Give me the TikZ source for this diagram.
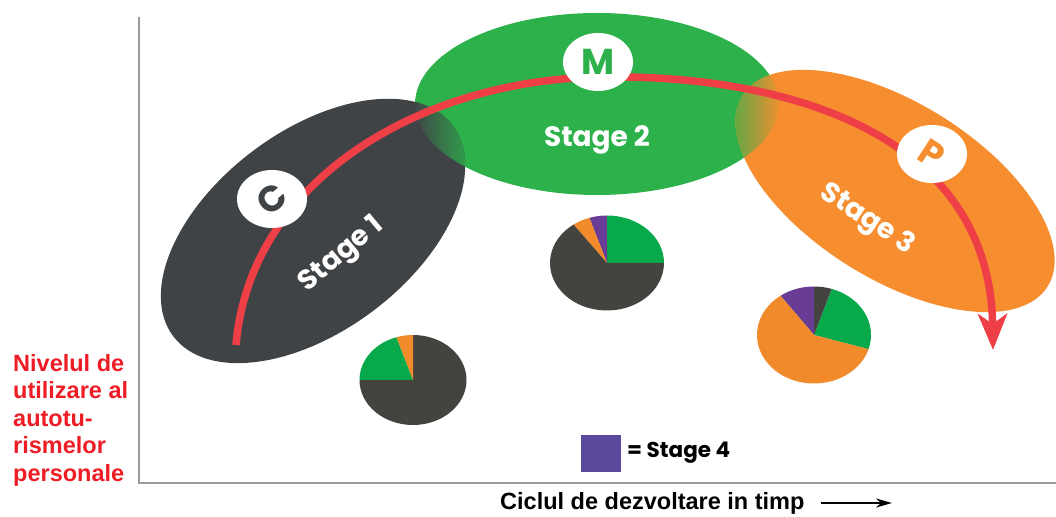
\documentclass[tikz,border=0pt]{standalone}
\usepackage{fontspec}
\usepackage{xcolor}
\usepackage{tikz}
\usetikzlibrary{arrows.meta}
\setmainfont{Liberation Sans}
\newfontfamily\stagefont{Poppins}
\definecolor{stageone}{HTML}{404346}
\definecolor{stagetwo}{HTML}{2DB24B}
\definecolor{stagethree}{HTML}{F68E2F}
\definecolor{piedark}{HTML}{45433F}
\definecolor{piegreen}{HTML}{08A94A}
\definecolor{pieorange}{HTML}{F08A2A}
\definecolor{piepurple}{HTML}{693D95}
\definecolor{legendpurple}{HTML}{5B4A9B}
\definecolor{arrowred}{HTML}{EE3F46}
\definecolor{labelred}{HTML}{EE1C25}
\definecolor{axisgray}{HTML}{9A9A9A}

\begin{document}
\begin{tikzpicture}[x=1pt, y=1pt]
\useasboundingbox (0,0) rectangle (1056,516);
% AXES
\coordinate (O) at (139,33);
\coordinate (YT) at (139,499);
\coordinate (XR) at (1056,33);
\draw[line width=2pt, axisgray] (YT) -- (O) -- (XR);
% STAGE ELLIPSES
\coordinate (S1) at (313,285);
\coordinate (S2) at (597,412);
\coordinate (S3) at (895,325);
\fill[stagetwo] (S2) ellipse [x radius=182, y radius=91];
\fill[stageone, rotate around={37:(S1)}] (S1) ellipse [x radius=175, y radius=100];
\fill[stagethree, rotate around={-32:(S3)}] (S3) ellipse [x radius=180, y radius=88];
% OVERLAPS: soft blend where the ellipses meet
\begin{scope}
\clip (S2) ellipse [x radius=182, y radius=91];
\clip[rotate around={37:(S1)}] (S1) ellipse [x radius=175, y radius=100];
\shade[left color=stageone, right color=stagetwo!85!stageone] (412,250) rectangle (468,500);
\end{scope}
\begin{scope}
\clip (S2) ellipse [x radius=182, y radius=91];
\clip[rotate around={-32:(S3)}] (S3) ellipse [x radius=180, y radius=88];
\shade[left color=stagetwo!75!stagethree, right color=stagethree] (733,250) rectangle (782,500);
\end{scope}
% RED ARROW
\coordinate (AS) at (236,171);
\coordinate (AT) at (600,439);
\coordinate (AE) at (993,166);
\draw[line width=7.5pt, arrowred, -{Stealth[length=36pt, width=29pt, inset=10pt]}]
  (AS) .. controls (250,336) and (420,436) .. (AT)
  .. controls (780,442) and (990,386) .. (AE);
% MARKER CIRCLES
\coordinate (MC) at (272,317);
\coordinate (MM) at (598,454);
\coordinate (MP) at (932,362);
\fill[white] (MC) ellipse [x radius=35, y radius=29];
\fill[white] (MM) ellipse [x radius=35, y radius=29];
\fill[white] (MP) ellipse [x radius=35, y radius=29];
\node[stageone, rotate=40, font=\stagefont\bfseries\fontsize{36}{36}\selectfont] (lc) at (MC) {C};
\node[stagetwo, font=\stagefont\bfseries\fontsize{36}{36}\selectfont] (lm) at (MM) {M};
\node[stagethree, rotate=-33, font=\stagefont\bfseries\fontsize{36}{36}\selectfont] (lp) at (MP) {P};
% STAGE LABELS
\node[white, rotate=40, font=\stagefont\bfseries\fontsize{28}{28}\selectfont] (s1) at (342,261) {Stage 1};
\node[white, font=\stagefont\bfseries\fontsize{28}{28}\selectfont] (s2) at (597,376) {Stage 2};
\node[white, rotate=-33, font=\stagefont\bfseries\fontsize{28}{28}\selectfont] (s3) at (867,296) {Stage 3};
% PIES
\coordinate (P1) at (413,136);
\fill[piedark] (P1) -- ++(180:53.5 and 45) arc [start angle=180, end angle=450, x radius=53.5, y radius=45] -- cycle;
\fill[piegreen] (P1) -- ++(108:53.5 and 45) arc [start angle=108, end angle=180, x radius=53.5, y radius=45] -- cycle;
\fill[pieorange] (P1) -- ++(90:53.5 and 45) arc [start angle=90, end angle=108, x radius=53.5, y radius=45] -- cycle;
\coordinate (P2) at (607,253);
\fill[piegreen] (P2) -- ++(0:57 and 47.5) arc [start angle=0, end angle=90, x radius=57, y radius=47.5] -- cycle;
\fill[piepurple] (P2) -- ++(90:57 and 47.5) arc [start angle=90, end angle=108, x radius=57, y radius=47.5] -- cycle;
\fill[pieorange] (P2) -- ++(108:57 and 47.5) arc [start angle=108, end angle=126, x radius=57, y radius=47.5] -- cycle;
\fill[piedark] (P2) -- ++(126:57 and 47.5) arc [start angle=126, end angle=360, x radius=57, y radius=47.5] -- cycle;
\coordinate (P3) at (814,181);
\fill[piegreen] (P3) -- ++(-17:57 and 48.5) arc [start angle=-17, end angle=72, x radius=57, y radius=48.5] -- cycle;
\fill[piedark] (P3) -- ++(72:57 and 48.5) arc [start angle=72, end angle=90, x radius=57, y radius=48.5] -- cycle;
\fill[piepurple] (P3) -- ++(90:57 and 48.5) arc [start angle=90, end angle=126, x radius=57, y radius=48.5] -- cycle;
\fill[pieorange] (P3) -- ++(126:57 and 48.5) arc [start angle=126, end angle=343, x radius=57, y radius=48.5] -- cycle;
% LEGEND
\fill[legendpurple] (581,44) rectangle (621,81);
\node[anchor=west, inner sep=0, font=\stagefont\bfseries\fontsize{21.5}{21.5}\selectfont] (leg) at (627,63) {= Stage 4};
% AXIS LABELS
\node[anchor=west, inner sep=0, align=left, labelred, font=\bfseries\fontsize{23.5}{27.5}\selectfont] (ylab) at (13,96)
  {Nivelul de\\utilizare al\\autotu-\\rismelor\\personale};
\node[anchor=west, inner sep=0, font=\bfseries\fontsize{23.5}{23.5}\selectfont] (xlab) at (500,13) {Ciclul de dezvoltare in timp};
\coordinate (XA) at (892,13);
\draw[line width=2pt, -{Stealth[length=16pt, width=9pt]}] ([xshift=16pt]xlab.east) -- (XA);
\end{tikzpicture}
\end{document}
